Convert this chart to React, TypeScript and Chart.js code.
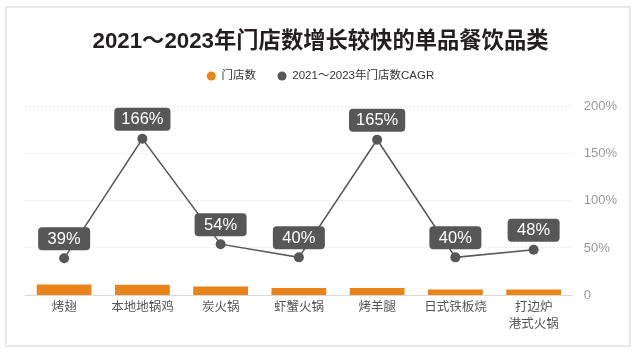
import React, { useEffect, useRef } from 'react';
import { Chart, registerables } from 'chart.js';

Chart.register(...registerables);

const titleText = '2021～2023年门店数增长较快的单品餐饮品类';
const seriesNames = ['门店数', '2021～2023年门店数CAGR'];
const categories: (string | string[])[] = ['烤翅', '本地地锅鸡', '炭火锅', '虾蟹火锅', '烤羊腿', '日式铁板烧', ['打边炉', '港式火锅']];
const storeCounts = [1110, 1100, 900, 740, 740, 580, 580];
const cagrValues = [39, 166, 54, 40, 165, 40, 48];
const yTicks = [0, 50, 100, 150, 200];

const ORANGE = '#E9841A';
const GRAY = '#575757';
const CJK = '"Noto Sans CJK SC", sans-serif';
const MIXED = '"Liberation Sans", Arial, "Noto Sans CJK SC", sans-serif';

const labelPlugin = {
  id: 'cagrLabels',
  afterDatasetsDraw(chart: any) {
    const meta = chart.getDatasetMeta(1);
    const ctx = chart.ctx;
    ctx.save();
    ctx.font = '16.5px "Liberation Sans", Arial, sans-serif';
    meta.data.forEach((pt: any, i: number) => {
      const text = cagrValues[i] + '%';
      const tw = ctx.measureText(text).width;
      const w = Math.max(52, tw + 14);
      const h = 23;
      const x = pt.x - w / 2;
      const y = pt.y - 8 - h;
      ctx.fillStyle = GRAY;
      ctx.beginPath();
      ctx.roundRect(x, y, w, h, 4);
      ctx.fill();
      ctx.fillStyle = '#ffffff';
      ctx.textAlign = 'center';
      ctx.textBaseline = 'middle';
      ctx.fillText(text, pt.x, y + h / 2 + 0.5);
    });
    ctx.restore();
  },
};

export default function App() {
  const ref = useRef<HTMLCanvasElement | null>(null);

  useEffect(() => {
    if (!ref.current) return;
    const colors = [ORANGE, GRAY];
    const chart = new Chart(ref.current, {
      type: 'bar',
      data: {
        labels: categories as any,
        datasets: [
          {
            type: 'bar',
            label: seriesNames[0],
            data: storeCounts,
            yAxisID: 'y1',
            backgroundColor: ORANGE,
            barPercentage: 0.7,
            categoryPercentage: 1,
            order: 2,
          } as any,
          {
            type: 'line',
            label: seriesNames[1],
            data: cagrValues,
            yAxisID: 'y',
            borderColor: GRAY,
            backgroundColor: GRAY,
            borderWidth: 1.5,
            pointRadius: 5,
            pointBackgroundColor: GRAY,
            pointBorderColor: GRAY,
            pointBorderWidth: 0,
            tension: 0,
            fill: false,
            order: 1,
          } as any,
        ],
      },
      options: {
        responsive: false,
        animation: false,
        layout: { padding: { left: 13, right: 10, top: 0, bottom: 18 } },
        plugins: {
          title: {
            display: true,
            text: titleText,
            color: '#231f20',
            font: { family: MIXED, size: 22.3, weight: 'bold', lineHeight: 0.6 },
            padding: { top: 35.4, bottom: 0 },
          },
          subtitle: {
            display: true,
            text: '',
            weight: 500,
            padding: 0,
            font: { size: 15, lineHeight: 1 },
          } as any,
          legend: {
            display: true,
            position: 'top',
            labels: {
              usePointStyle: true,
              pointStyle: 'circle',
              boxWidth: 9,
              boxHeight: 6.4,
              padding: 21.5,
              color: '#333333',
              font: { family: MIXED, size: 11.5 },
              generateLabels: () =>
                seriesNames.map((name, i) => ({
                  text: name,
                  fillStyle: colors[i],
                  strokeStyle: colors[i],
                  lineWidth: 0,
                  pointStyle: 'circle',
                  hidden: false,
                  datasetIndex: i,
                  fontColor: '#333333',
                })) as any,
            },
          },
          tooltip: { enabled: false },
        },
        scales: {
          x: {
            grid: { display: false, drawTicks: false },
            border: { display: false },
            ticks: {
              color: '#555555',
              padding: 3,
              maxRotation: 0,
              autoSkip: false,
              font: { family: CJK, size: 12.5, lineHeight: 1.36 },
            },
          },
          y: {
            position: 'right',
            min: 0,
            max: 200,
            afterBuildTicks: (axis: any) => {
              axis.ticks = yTicks.map((v) => ({ value: v }));
            },
            ticks: {
              color: '#999999',
              padding: 11,
              font: { family: MIXED, size: 13 },
              callback: (v: any) => (Number(v) === 0 ? '0' : v + '%'),
            },
            grid: {
              color: (c: any) => (c.tick && c.tick.value === 0 ? '#d9d9d9' : '#ebebeb'),
              lineWidth: 1,
              drawTicks: false,
            },
            border: {
              display: false,
              dash: (c: any) => (c.tick && c.tick.value === 0 ? [] : [2, 2]),
            },
          },
          y1: {
            display: true,
            position: 'left',
            min: 0,
            max: 20000,
            ticks: { display: false },
            grid: { display: false, drawTicks: false },
            border: { display: false },
            afterFit: (axis: any) => {
              axis.width = 12;
            },
          },
        },
      } as any,
      plugins: [labelPlugin],
    });
    return () => chart.destroy();
  }, []);

  return (
    <div style={{ position: 'fixed', left: 0, top: 0, width: 638, height: 353, background: '#ffffff' }}>
      <div
        style={{
          position: 'absolute',
          left: 5,
          top: 6,
          width: 626,
          height: 341,
          boxSizing: 'border-box',
          border: '2px solid #e8e8e8',
        }}
      />
      <canvas ref={ref} width={638} height={353} style={{ position: 'absolute', left: 0, top: 0 }} />
    </div>
  );
}
